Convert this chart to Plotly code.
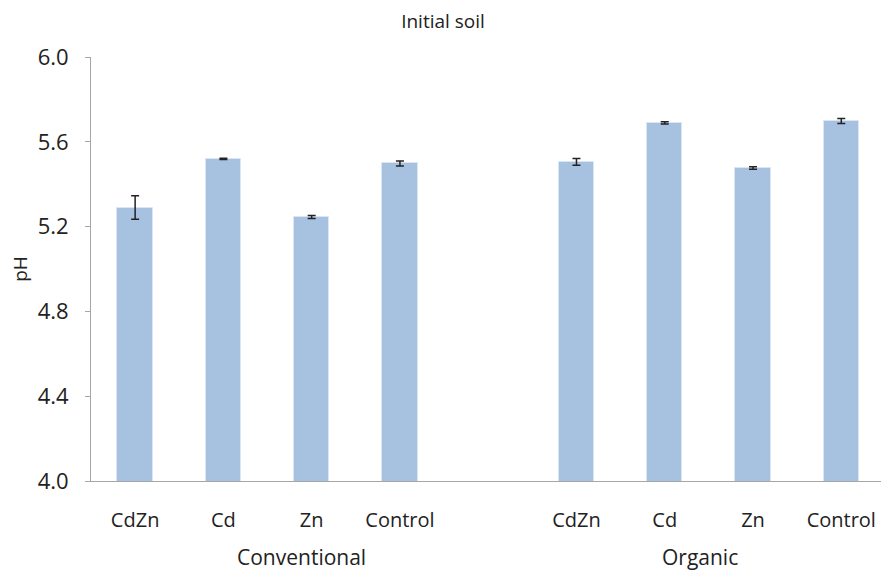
import plotly.graph_objects as go

title = "Initial soil"
groups = ["Conventional", "Organic"]
treatments = ["CdZn", "Cd", "Zn", "Control"]
conventional_ph = [5.29, 5.519, 5.245, 5.498]
conventional_err = [0.055, 0.003, 0.007, 0.012]
organic_ph = [5.505, 5.689, 5.476, 5.698]
organic_err = [0.016, 0.005, 0.006, 0.012]
y_ticks = [4.0, 4.4, 4.8, 5.2, 5.6, 6.0]

# slot positions: 4 conventional, one empty slot, 4 organic
x_conv = list(range(len(treatments)))
x_org = [len(treatments) + 1 + i for i in range(len(treatments))]
xs = x_conv + x_org
ys = conventional_ph + organic_ph
errs = conventional_err + organic_err
labels = treatments + treatments

FONT = "'Open Sans', Lato, sans-serif"
TXT = "#222222"
BAR = "#A7C1E0"

W, H = 881, 577

fig = go.Figure()
fig.add_trace(go.Bar(
    x=xs, y=ys, width=0.40,
    marker=dict(color=BAR, line=dict(color="#DCE6F2", width=1)),
    error_y=dict(type="data", array=errs, visible=True, color=TXT,
                 thickness=1.5, width=4),
    showlegend=False,
))

fig.update_layout(
    width=W, height=H,
    margin=dict(l=91, r=0, t=57, b=96),
    plot_bgcolor="white", paper_bgcolor="white",
    font=dict(family=FONT, color=TXT),
    title=dict(text=title, x=443 / W, xanchor="center",
               y=1 - 21 / H, yanchor="middle",
               font=dict(size=19, family=FONT, color=TXT)),
    bargap=0,
)
fig.update_xaxes(
    range=[-0.5, 8.45],
    tickmode="array", tickvals=xs, ticktext=labels,
    tickfont=dict(size=20, family=FONT, color=TXT),
    showline=True, linecolor="#A6A6A6", linewidth=1,
    ticks="outside", ticklen=21, tickcolor="rgba(0,0,0,0)",
    showgrid=False, zeroline=False,
)
fig.update_yaxes(
    range=[4.0, 6.0],
    tickmode="array", tickvals=y_ticks, ticktext=[f"{v:.1f}" for v in y_ticks],
    tickfont=dict(size=22, family=FONT, color=TXT),
    showline=True, linecolor="#A6A6A6", linewidth=1,
    ticks="outside", ticklen=5, tickcolor="#A6A6A6",
    ticklabelstandoff=12,
    showgrid=False, zeroline=False,
    title=dict(text="pH", font=dict(size=19, family=FONT, color=TXT), standoff=5),
)

group_x = [1.88, 6.40]
for gx, g in zip(group_x, groups):
    fig.add_annotation(x=gx, xref="x", y=-(557 - 481) / (481 - 57), yref="paper",
                       yanchor="middle", text=g, showarrow=False,
                       font=dict(size=21, family=FONT, color=TXT))

fig.write_html("out.html",
               config={"displayModeBar": False},
               post_script="document.body.style.margin='0';document.body.style.overflow='hidden';")
